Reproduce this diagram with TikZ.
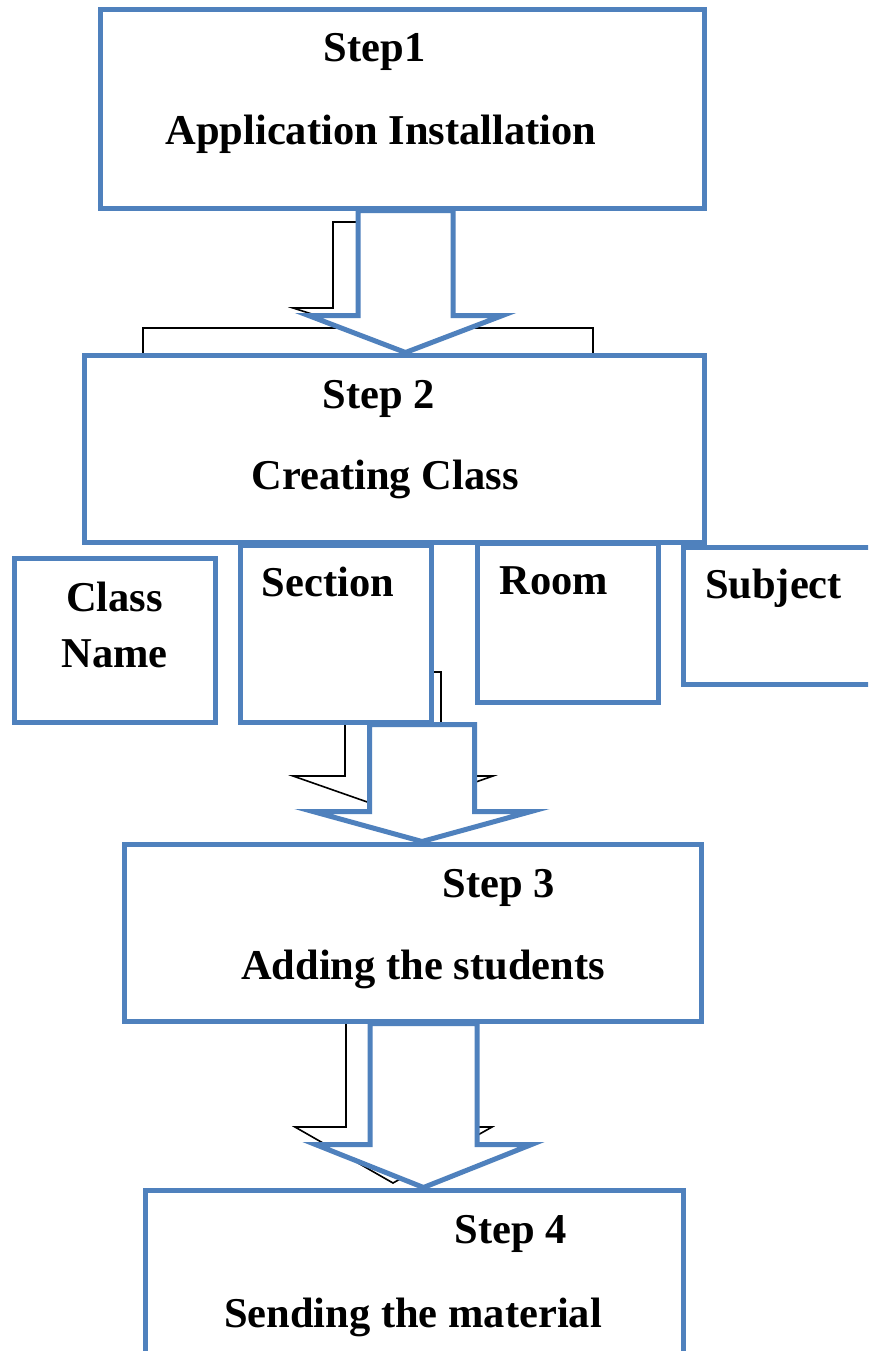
\documentclass[tikz,border=0pt]{standalone}
\usepackage{fontspec}
\setmainfont{Liberation Serif}
\usetikzlibrary{calc}
\definecolor{boxblue}{HTML}{4F81BD}
\newcommand{\blockarrow}[5]{%
  \draw[bluearrow] ($(#1)+(-#3,0)$) -- ($(#1)+(#3,0)$) -- ($(#2)+(#3,-#5)$) -- ($(#2)+(#4,-#5)$)
    -- (#2) -- ($(#2)+(-#4,-#5)$) -- ($(#2)+(-#3,-#5)$) -- cycle;}
\begin{document}
\begin{tikzpicture}[x=1pt,y=-1pt,
  box/.style={draw=boxblue,line width=5pt,fill=white,rectangle,inner sep=0pt},
  lbl/.style={anchor=base,inner sep=0pt,font=\fontsize{42.5}{50}\selectfont\bfseries},
  ghost/.style={draw=black,line width=1.6pt,line join=miter},
  bluearrow/.style={draw=boxblue,line width=5pt,fill=white,line join=miter}]
\useasboundingbox (0,0) rectangle (868,1351);
\clip (0,0) rectangle (868,1351);
\fill[white] (0,0) rectangle (868,1351);

% leftover black outlines behind the blue shapes
\draw[ghost] (143,400) -- (143,328) -- (593,328) -- (593,400);
\draw[ghost] (333,222) -- (440,222) -- (440,308) -- (450,308) -- (381,336) -- (293,308) -- (333,308) -- cycle;
\draw[ghost] (345,672) -- (441,672) -- (441,776) -- (493,776) -- (393,811) -- (293,776) -- (345,776) -- cycle;
\draw[ghost] (346,1000) -- (440,1000) -- (440,1127) -- (492,1127) -- (393,1183) -- (295,1127) -- (346,1127) -- cycle;

% boxes
\node[box,minimum width=604pt,minimum height=198pt] (b1) at (402,109) {};
\node[box,minimum width=620pt,minimum height=187pt] (b2) at (394,448.5) {};
\node[box,minimum width=201pt,minimum height=164pt] (cn) at (114.5,640) {};
\node[box,minimum width=191pt,minimum height=177pt] (sec) at (335.5,633.5) {};
\node[box,minimum width=181pt,minimum height=159pt] (room) at (567.5,622.5) {};
\node[box,minimum width=217pt,minimum height=137pt] (subj) at (791.5,615.5) {};
\node[box,minimum width=577pt,minimum height=177pt] (b3) at (412.5,932.5) {};
\node[box,minimum width=538pt,minimum height=210pt] (b4) at (414,1295) {};

% texts
\node[lbl] (s1t) at (374.5,62) {Step1};
\node[lbl] (s1x) at (381,145) {Application Installation};
\node[lbl] (s2t) at (378.5,408) {Step 2};
\node[lbl] (s2x) at (385,489) {Creating Class};
\node[lbl] (cnt1) at (114.5,611) {Class};
\node[lbl] (cnt2) at (114.5,667) {Name};
\node[lbl] (sect) at (328,596) {Section};
\node[lbl] (roomt) at (554,594) {Room};
\node[lbl] (subjt) at (773.5,598) {Subject};
\node[lbl] (s3t) at (499,897) {Step 3};
\node[lbl] (s3x) at (423,979) {Adding the students};
\node[lbl] (s4t) at (511,1243) {Step 4};
\node[lbl] (s4x) at (413,1327) {Sending the material};

% blue block arrows between the boxes
\coordinate (c1) at (405.5,0);
\coordinate (c2) at (422,0);
\coordinate (c3) at (423.5,0);
\path (b1.south -| c1) coordinate (a1top) (b2.north -| c1) coordinate (a1tip);
\path (sec.south -| c2) coordinate (a2top) (b3.north -| c2) coordinate (a2tip);
\path (b3.south -| c3) coordinate (a3top) (b4.north -| c3) coordinate (a3tip);
\blockarrow{a1top}{a1tip}{47.5}{97}{37}
\blockarrow{a2top}{a2tip}{52.5}{109}{30}
\blockarrow{a3top}{a3tip}{53.5}{108}{43}
\end{tikzpicture}
\end{document}
